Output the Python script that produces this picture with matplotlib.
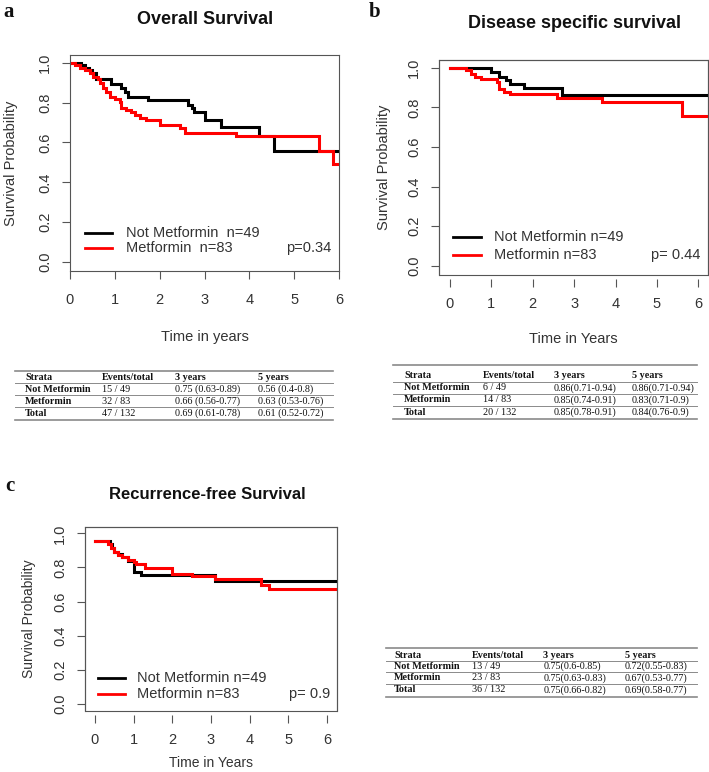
import matplotlib
matplotlib.use('Agg')
import matplotlib.pyplot as plt
from matplotlib.lines import Line2D
from matplotlib.patches import Rectangle

# ---- data ----
years = [0, 1, 2, 3, 4, 5, 6]
probs = [0.0, 0.2, 0.4, 0.6, 0.8, 1.0]

# a: overall survival
os_not_t = [0, 0.253, 0.327, 0.416, 0.491, 0.588, 0.922, 1.145, 1.22, 1.293, 1.74,
            2.63, 2.72, 2.77, 3.02, 3.37, 4.21, 4.55, 6.0]
os_not_s = [1.0, 0.989, 0.975, 0.962, 0.947, 0.918, 0.891, 0.871, 0.851, 0.829, 0.813,
            0.788, 0.771, 0.751, 0.712, 0.679, 0.632, 0.559, 0.559]
os_met_t = [0, 0.104, 0.216, 0.327, 0.439, 0.513, 0.624, 0.662, 0.736, 0.81, 0.885,
            0.996, 1.108, 1.145, 1.256, 1.368, 1.443, 1.554, 1.703, 2.0, 2.446, 2.558,
            3.71, 5.55, 5.87, 6.0]
os_met_s = [1.0, 0.988, 0.975, 0.962, 0.947, 0.93, 0.918, 0.896, 0.875, 0.851, 0.829,
            0.818, 0.805, 0.775, 0.763, 0.751, 0.738, 0.725, 0.712, 0.687, 0.674, 0.65,
            0.632, 0.559, 0.49, 0.49]

# b: disease specific survival
dss_not_t = [0, 1.0, 1.2, 1.35, 1.45, 1.8, 2.7, 6.25]
dss_not_s = [1.0, 0.977, 0.955, 0.937, 0.916, 0.896, 0.86, 0.86]
dss_met_t = [0, 0.4, 0.52, 0.62, 0.75, 1.15, 1.2, 1.32, 1.45, 2.58, 3.67, 5.6, 6.25]
dss_met_s = [1.0, 0.988, 0.968, 0.955, 0.941, 0.929, 0.89, 0.879, 0.866, 0.847, 0.825,
             0.756, 0.756]

# c: recurrence-free survival
rfs_not_t = [0, 0.4, 0.45, 0.5, 0.6, 0.7, 0.85, 1.0, 1.2, 3.1, 6.25]
rfs_not_s = [0.957, 0.94, 0.915, 0.893, 0.877, 0.86, 0.838, 0.775, 0.756, 0.72, 0.72]
rfs_met_t = [0, 0.33, 0.42, 0.5, 0.6, 0.7, 0.85, 1.0, 1.05, 1.3, 2.0, 2.5, 3.1, 4.3,
             4.5, 6.25]
rfs_met_s = [0.957, 0.94, 0.915, 0.89, 0.875, 0.86, 0.843, 0.83, 0.82, 0.795, 0.762,
             0.75, 0.73, 0.70, 0.672, 0.672]

table_header = ['Strata', 'Events/total', '3 years', '5 years']
table_a = [['Not Metformin', '15 / 49', '0.75 (0.63-0.89)', '0.56 (0.4-0.8)'],
           ['Metformin', '32 / 83', '0.66 (0.56-0.77)', '0.63 (0.53-0.76)'],
           ['Total', '47 / 132', '0.69 (0.61-0.78)', '0.61 (0.52-0.72)']]
table_b = [['Not Metformin', '6 / 49', '0.86(0.71-0.94)', '0.86(0.71-0.94)'],
           ['Metformin', '14 / 83', '0.85(0.74-0.91)', '0.83(0.71-0.9)'],
           ['Total', '20 / 132', '0.85(0.78-0.91)', '0.84(0.76-0.9)']]
table_c = [['Not Metformin', '13 / 49', '0.75(0.6-0.85)', '0.72(0.55-0.83)'],
           ['Metformin', '23 / 83', '0.75(0.63-0.83)', '0.67(0.53-0.77)'],
           ['Total', '36 / 132', '0.75(0.66-0.82)', '0.69(0.58-0.77)']]

W, H = 709, 772
plt.rcParams['font.family'] = ['Liberation Sans', 'DejaVu Sans']
fig = plt.figure(figsize=(W / 100, H / 100), dpi=100)

TXT = '#333333'
EDGE = '#555555'


def box(l, t, r, b):
    return [l / W, 1 - b / H, (r - l) / W, (b - t) / H]


def km_panel(rect, xlim, ylim, curves, labels, pval, leg, gap, xpad):
    ax = fig.add_axes(rect)
    for tt, ss, col in curves:
        ax.step(tt, ss, where='post', color=col, lw=2.2, solid_joinstyle='miter')
    ax.set_xlim(*xlim)
    ax.set_ylim(*ylim)
    ax.set_xticks(years)
    ax.set_yticks(probs)
    ax.set_yticklabels(['%.1f' % p for p in probs], rotation=90, va='center')
    ax.tick_params(colors=EDGE, labelcolor=TXT, labelsize=10.5, length=6, width=0.8,
                   pad=7)
    ax.tick_params(axis='x', pad=xpad)
    for sp in ax.spines.values():
        sp.set_color(EDGE)
        sp.set_linewidth(0.8)
    if gap:
        ax.spines['bottom'].set_position(('outward', gap))
        ax.spines['bottom'].set_visible(False)
        ax.add_patch(Rectangle((0, 0), 1, 1, transform=ax.transAxes, fill=False,
                               ec=EDGE, lw=0.8, clip_on=False))
    x0, x1, yb, yr, xt, xp = leg
    ax.add_line(Line2D([x0, x1], [yb, yb], transform=ax.transAxes, color='black', lw=2))
    ax.add_line(Line2D([x0, x1], [yr, yr], transform=ax.transAxes, color='red', lw=2))
    ax.text(xt, yb, labels[0], transform=ax.transAxes, va='center', fontsize=10.5,
            color=TXT)
    ax.text(xt, yr, labels[1], transform=ax.transAxes, va='center', fontsize=10.5,
            color=TXT)
    ax.text(xp, yr, pval, transform=ax.transAxes, va='center', ha='right',
            fontsize=10.5, color=TXT)
    return ax


def draw_table(rows, cols_x, ys, lines_y, x_left, x_right):
    for j, h in enumerate(table_header):
        fig.text(cols_x[j] / W, 1 - ys[0] / H, h, fontsize=7.3, weight='bold',
                 family='Liberation Serif', va='center', color='#111111')
    for i, row in enumerate(rows):
        for j, val in enumerate(row):
            fig.text(cols_x[j] / W, 1 - ys[i + 1] / H, val, fontsize=7.3,
                     weight='bold' if j == 0 else 'normal',
                     family='Liberation Serif', va='center', color='#111111')
    for k, y in enumerate(lines_y):
        lw = 1.2 if k in (0, len(lines_y) - 1) else 0.7
        fig.add_artist(Line2D([x_left / W, x_right / W], [1 - y / H, 1 - y / H],
                              color='#8a8a8a', lw=lw))


# panel a
ax_a = km_panel(box(70, 55, 339, 271), (0, 6), (-0.045, 1.039),
                [(os_not_t, os_not_s, 'black'), (os_met_t, os_met_s, 'red')],
                ['Not Metformin  n=49', 'Metformin  n=83'], 'p=0.34',
                (0.056, 0.155, 0.1745, 0.105, 0.208, 0.973), 0, 9.5)
ax_a.set_xlabel('Time in years', fontsize=10.5, color=TXT, labelpad=17)
ax_a.set_ylabel('Survival Probability', fontsize=10.5, color=TXT, labelpad=14)

# panel b
ax_b = km_panel(box(439.3, 60, 708, 275), (-0.25, 6.23), (-0.047, 1.039),
                [(dss_not_t, dss_not_s, 'black'), (dss_met_t, dss_met_s, 'red')],
                ['Not Metformin n=49', 'Metformin n=83'], 'p= 0.44',
                (0.052, 0.155, 0.178, 0.093, 0.205, 0.970), 3, 7)
ax_b.set_xlabel('Time in Years', fontsize=10.5, color=TXT, labelpad=15)
ax_b.set_ylabel('Survival Probability', fontsize=10.5, color=TXT, labelpad=12)

# panel c
ax_c = km_panel(box(85, 526.7, 336.7, 710.7), (-0.258, 6.25), (-0.039, 1.039),
                [(rfs_not_t, rfs_not_s, 'black'), (rfs_met_t, rfs_met_s, 'red')],
                ['Not Metformin n=49', 'Metformin n=83'], 'p= 0.9',
                (0.053, 0.159, 0.176, 0.091, 0.205, 0.973), 3, 7)
ax_c.set_xlabel('Time in Years', fontsize=10, color=TXT, labelpad=6.5)
ax_c.set_ylabel('Survival Probability', fontsize=10, color=TXT, labelpad=12)

# titles and panel letters
fig.text(205 / W, 1 - 19 / H, 'Overall Survival', ha='center', va='center',
         fontsize=13, weight='bold', color='#111111')
fig.text(574 / W, 1 - 23 / H, 'Disease specific survival', ha='center', va='center',
         fontsize=13, weight='bold', color='#111111')
fig.text(207 / W, 1 - 495 / H, 'Recurrence-free Survival', ha='center', va='center',
         fontsize=12, weight='bold', color='#111111')
for letter, x, y in [('a', 9, 12), ('b', 375, 12), ('c', 10, 486)]:
    fig.text(x / W, 1 - y / H, letter, ha='center', va='center', fontsize=15,
             weight='bold', family='Liberation Serif', color='#111111')

# tables
draw_table(table_a, [25, 101.7, 175, 258], [377.7, 389.3, 401.3, 413.3],
           [370.7, 383.3, 395.3, 407.3, 420], 15, 333)
draw_table(table_b, [404.3, 482.7, 554, 631.7], [376, 388, 400, 412.3],
           [365, 382, 394, 406, 418.5], 393, 697)
draw_table(table_c, [394, 471.7, 543.3, 625], [655.7, 666.3, 678, 689.7],
           [648.3, 661, 672.3, 684, 697], 386, 697)

fig.savefig('out.png', dpi=100)
